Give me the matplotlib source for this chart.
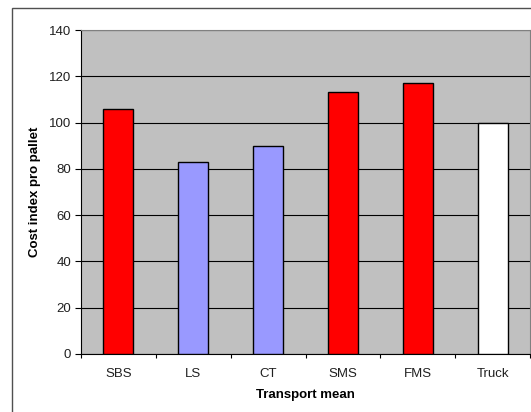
import matplotlib
matplotlib.use('Agg')
import matplotlib.pyplot as plt
from matplotlib.patches import Rectangle
import numpy as np

plt.rcParams['font.family'] = ['Liberation Sans', 'DejaVu Sans']

# data
categories = ['SBS', 'LS', 'CT', 'SMS', 'FMS', 'Truck']
cost_index = [106, 83, 90, 113, 117, 100]
bar_colors = ['#FF0000', '#9999FF', '#9999FF', '#FF0000', '#FF0000', '#FFFFFF']
y_ticks = [0, 20, 40, 60, 80, 100, 120, 140]

fig = plt.figure(figsize=(5.31, 4.12), dpi=100)
fig.patch.set_facecolor('white')

# outer chart frame (cut off at right / bottom)
fig.patches.append(Rectangle((12 / 531, -0.1), 1.2, 1.1 - 8 / 412,
                             transform=fig.transFigure, fill=False,
                             edgecolor='#505050', linewidth=1.0))

ax = fig.add_axes([81 / 531, 58 / 412, 449 / 531, 324 / 412])
ax.set_facecolor('#C0C0C0')

x = np.arange(len(categories))
ax.bar(x, cost_index, width=0.4, color=bar_colors, edgecolor='black',
       linewidth=1.0, zorder=3)

ax.set_xlim(-0.5, len(categories) - 0.5)
ax.set_ylim(0, 140)
ax.set_yticks(y_ticks)
ax.set_yticklabels([str(v) for v in y_ticks], fontsize=9.5, color='#202020')
ax.yaxis.grid(True, color='black', linewidth=0.8, zorder=1)
ax.set_axisbelow(True)

# x ticks between categories, labels centered
ax.set_xticks(np.arange(len(categories) + 1) - 0.5)
ax.set_xticklabels([])
ax.set_xticks(x, minor=True)
ax.set_xticklabels(categories, minor=True, fontsize=9.5, color='#202020')
ax.tick_params(axis='x', which='minor', length=0, pad=10)
ax.tick_params(axis='x', which='major', length=3, direction='out')
ax.tick_params(axis='y', length=4, direction='out', pad=3)

for s in ['top', 'right']:
    ax.spines[s].set_color('#808080')
for s in ['left', 'bottom']:
    ax.spines[s].set_color('black')

ax.set_xlabel('Transport mean', fontsize=9.5, fontweight='bold')
ax.set_ylabel('Cost index pro pallet', fontsize=9.5, fontweight='bold')
ax.xaxis.set_label_coords(0.5, (354 - 395) / 324)
ax.yaxis.set_label_coords((35 - 81) / 449, 0.5)
ax.xaxis.label.set_va('center')
ax.yaxis.label.set_va('center')

fig.savefig('out.png', dpi=100)
